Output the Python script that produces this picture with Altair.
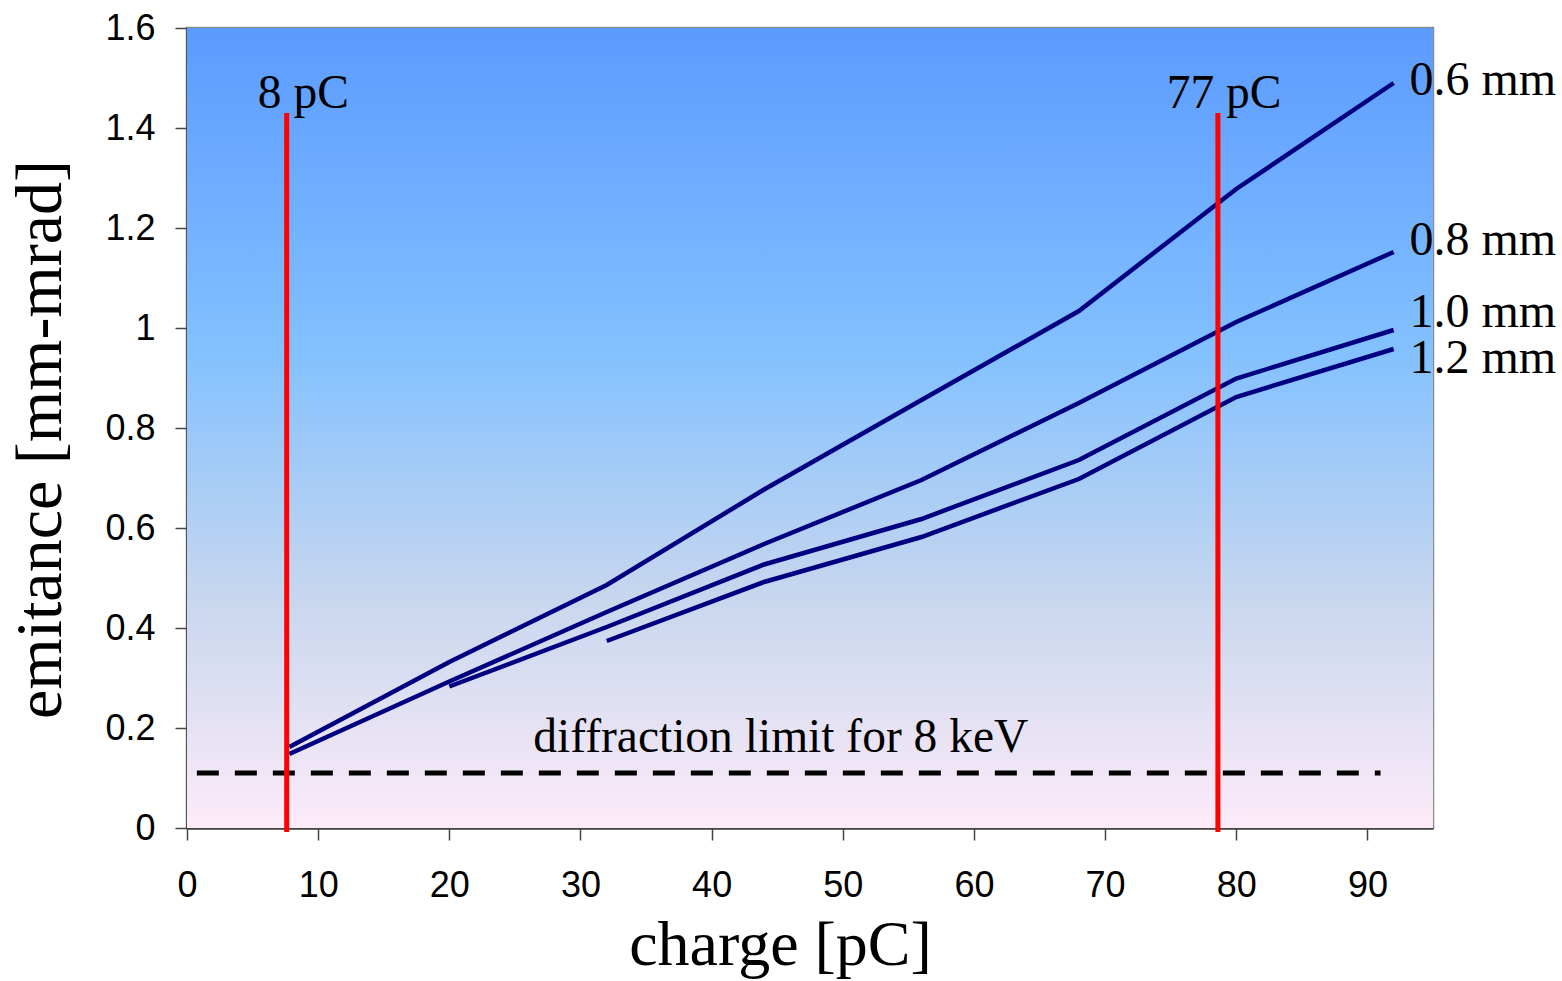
import altair as alt
import pandas as pd

# ---- data ----
charge = [7.8, 20, 32, 44, 56, 68, 80, 92]
em_06 = [0.162, 0.332, 0.486, 0.677, 0.856, 1.034, 1.278, 1.490]
em_08 = [0.148, 0.293, 0.432, 0.568, 0.696, 0.850, 1.012, 1.152]
em_10 = [None, 0.283, 0.402, 0.527, 0.618, 0.736, 0.899, 0.996]
em_12 = [None, None, 0.374, 0.492, 0.582, 0.698, 0.862, 0.958]
series_names = ["0.6 mm", "0.8 mm", "1.0 mm", "1.2 mm"]

# series label anchors (charge, emittance)
label_charge = [93.2, 93.2, 93.2, 93.2]
label_em = [1.466, 1.146, 1.002, 0.910]

# vertical markers
marker_charge = [7.6, 78.6]
marker_text = ["8 pC", "77 pC"]
marker_text_charge = [5.4, 74.7]
marker_top = 1.43
marker_text_em = 1.44

# diffraction limit
diff_limit = 0.11
diff_from, diff_to = 0.75, 91.0
diff_text = "diffraction limit for 8 keV"
diff_text_charge, diff_text_em = 26.4, 0.152

x_ticks = [0, 10, 20, 30, 40, 50, 60, 70, 80, 90]
y_ticks = [0, 0.2, 0.4, 0.6, 0.8, 1.0, 1.2, 1.4, 1.6]
x_domain = [0, 95]
y_domain = [0, 1.6]

# ---- tables ----
rows = []
for name, vals in zip(series_names, [em_06, em_08, em_10, em_12]):
    for i, (c, v) in enumerate(zip(charge, vals)):
        if v is not None:
            rows.append({"charge": c, "emittance": v, "series": name, "order": i})
lines_df = pd.DataFrame(rows)

labels_df = pd.DataFrame({"charge": label_charge, "emittance": label_em, "text": series_names})
markers_df = pd.DataFrame({"charge": marker_charge, "y0": [-0.008] * 2, "y1": [marker_top] * 2})
marker_text_df = pd.DataFrame({"charge": marker_text_charge, "emittance": [marker_text_em] * 2,
                               "text": marker_text})
diff_df = pd.DataFrame({"x0": [diff_from], "x1": [diff_to], "y": [diff_limit]})
diff_text_df = pd.DataFrame({"charge": [diff_text_charge], "emittance": [diff_text_em], "text": [diff_text]})
bg_df = pd.DataFrame({"x0": [x_domain[0]], "x1": [x_domain[1]], "y0": [y_domain[0]], "y1": [y_domain[1]]})

SERIF = "Liberation Serif"
SANS = "Liberation Sans"

xscale = alt.Scale(domain=x_domain, nice=False, zero=False)
yscale = alt.Scale(domain=y_domain, nice=False, zero=False)

xaxis = alt.Axis(values=x_ticks, title="charge [pC]", titleFont=SERIF, titleFontSize=64,
                 titleFontWeight="normal", titleColor="black", titleX=593, titleY=136,
                 titleBaseline="alphabetic", titleAnchor="middle",
                 labelFont=SANS, labelFontSize=36, labelColor="black", labelPadding=28,
                 labelFlush=False,
                 tickSize=12, tickColor="#444444", tickWidth=1.5,
                 domainColor="#444444", domainWidth=2.5, grid=False)
yaxis = alt.Axis(values=y_ticks, format="~g", title="emitance [mm-mrad]", titleFont=SERIF,
                 titleFontSize=66, titleFontWeight="normal", titleColor="black",
                 titleX=-127, titleY=411, titleAngle=-90, titleBaseline="alphabetic",
                 titleAlign="center",
                 labelFont=SANS, labelFontSize=36, labelColor="black", labelPadding=20,
                 labelFlush=False,
                 tickSize=12, tickColor="#444444", tickWidth=1.5,
                 domainColor="#444444", domainWidth=2.5, grid=False)

gradient = alt.LinearGradient(
    gradient="linear",
    stops=[
        alt.GradientStop(offset=0.0, color="#5b9bff"),
        alt.GradientStop(offset=0.40, color="#82c0ff"),
        alt.GradientStop(offset=0.72, color="#c9d7ee"),
        alt.GradientStop(offset=1.0, color="#fdebf9"),
    ],
    x1=0, x2=0, y1=0, y2=1,
)

bg = alt.Chart(bg_df).mark_rect(color=gradient, strokeWidth=0).encode(
    x=alt.X("x0:Q", scale=xscale, axis=xaxis),
    x2="x1:Q",
    y=alt.Y("y0:Q", scale=yscale, axis=yaxis),
    y2="y1:Q",
)

lines = alt.Chart(lines_df).mark_line(color="#000080", strokeWidth=4.5, strokeCap="butt").encode(
    x=alt.X("charge:Q", scale=xscale),
    y=alt.Y("emittance:Q", scale=yscale),
    detail="series:N",
    order="order:Q",
)

diff_line = alt.Chart(diff_df).mark_rule(color="black", strokeWidth=5, strokeDash=[22, 16]).encode(
    x=alt.X("x0:Q", scale=xscale), x2="x1:Q",
    y=alt.Y("y:Q", scale=yscale),
)

markers = alt.Chart(markers_df).mark_rule(color="#ff0000", strokeWidth=5).encode(
    x=alt.X("charge:Q", scale=xscale),
    y=alt.Y("y0:Q", scale=yscale), y2="y1:Q",
)

marker_labels = alt.Chart(marker_text_df).mark_text(
    font=SERIF, fontSize=47.5, align="left", baseline="alphabetic", color="black"
).encode(x=alt.X("charge:Q", scale=xscale), y=alt.Y("emittance:Q", scale=yscale), text="text:N")

diff_label = alt.Chart(diff_text_df).mark_text(
    font=SERIF, fontSize=47.5, align="left", baseline="alphabetic", color="black"
).encode(x=alt.X("charge:Q", scale=xscale), y=alt.Y("emittance:Q", scale=yscale), text="text:N")

series_labels = alt.Chart(labels_df).mark_text(
    font=SERIF, fontSize=48, align="left", baseline="alphabetic", color="black"
).encode(x=alt.X("charge:Q", scale=xscale), y=alt.Y("emittance:Q", scale=yscale), text="text:N")

chart = alt.layer(bg, diff_line, lines, markers, marker_labels, diff_label, series_labels).properties(
    width=1246, height=800,
    autosize=alt.AutoSizeParams(type="none"),
    padding={"left": 187, "top": 28, "right": 129, "bottom": 153},
    background="white",
).configure_view(stroke="#8c8c8c", strokeWidth=2.5)

chart.save("out.html", embed_options={"renderer": "svg", "actions": False})
